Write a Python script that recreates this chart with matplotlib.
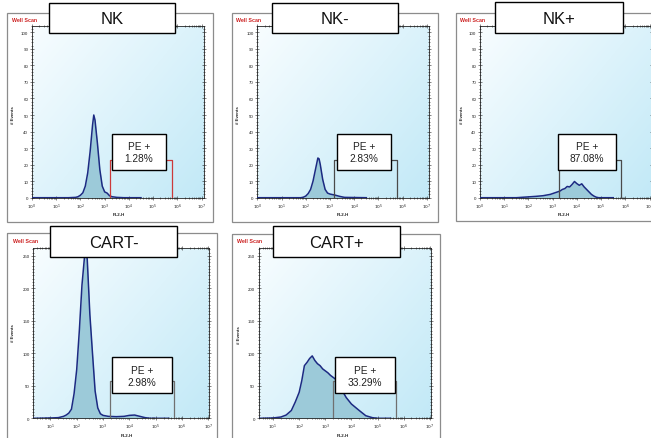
import numpy as np
import matplotlib
matplotlib.use("Agg")
import matplotlib.pyplot as plt
from matplotlib.patches import Rectangle
from matplotlib.ticker import LogLocator, MultipleLocator, FixedLocator, FixedFormatter, NullFormatter

plt.rcParams['font.family'] = ['Liberation Sans', 'DejaVu Sans']

# ---------------- data (log10 FL2-H, # events) ----------------
titles = ["NK", "NK-", "NK+", "CART-", "CART+"]
pe_labels = ["PE +\n1.28%", "PE +\n2.83%", "PE +\n87.08%", "PE +\n2.98%", "PE +\n33.29%"]

nk_x = [0.0, 1.5, 1.8, 1.9, 2.0, 2.1, 2.2, 2.3, 2.4, 2.5, 2.55, 2.6, 2.7, 2.8, 2.9, 3.0, 3.1, 3.2, 3.3, 3.5, 3.8, 4.5]
nk_y = [0, 0, 0.2, 0.6, 1.5, 3, 7, 15, 28, 44, 50, 47, 33, 17, 7, 3.5, 2.8, 1.2, 0.6, 0.2, 0, 0]

nkm_x = [0.0, 1.8, 1.9, 2.0, 2.1, 2.2, 2.3, 2.4, 2.5, 2.55, 2.6, 2.7, 2.8, 2.9, 3.0, 3.2, 3.4, 3.6, 4.5]
nkm_y = [0, 0, 0.3, 1.0, 2.5, 5, 10, 17, 24, 23.5, 20, 11, 5, 2.8, 2.2, 1.6, 0.8, 0.2, 0]

nkp_x = [0.0, 1.5, 1.8, 2.0, 2.3, 2.6, 2.9, 3.1, 3.3, 3.4, 3.5, 3.6, 3.7, 3.8, 3.9, 4.0, 4.1, 4.2, 4.3, 4.4, 4.5, 4.6, 4.7, 4.8, 4.9, 5.5]
nkp_y = [0, 0, 0.3, 0.5, 0.8, 1.2, 2.0, 3.0, 4.0, 5.0, 5.5, 6.8, 6.5, 8.0, 9.8, 8.5, 7.5, 8.4, 6.5, 5.0, 3.5, 2.0, 1.0, 0.3, 0, 0]

cartm_x = [0.35, 1.0, 1.3, 1.5, 1.6, 1.7, 1.8, 1.9, 2.0, 2.1, 2.2, 2.3, 2.35, 2.4, 2.5, 2.6, 2.7, 2.8, 2.9, 3.0, 3.2, 3.5, 3.8, 4.0, 4.2, 4.4, 4.6, 4.8, 5.5]
cartm_y = [0, 0.5, 1, 3, 5, 8, 14, 38, 75, 135, 205, 250, 256, 245, 160, 100, 42, 16, 7, 4.5, 3, 2.5, 3, 4.5, 5, 3, 1, 0, 0]

cartp_x = [0.45, 1.0, 1.3, 1.5, 1.7, 1.85, 2.0, 2.1, 2.2, 2.3, 2.4, 2.5, 2.6, 2.7, 2.8, 2.9, 3.0, 3.1, 3.2, 3.3, 3.4, 3.5, 3.6, 3.7, 3.8, 4.0, 4.3, 4.55, 4.8, 5.0, 5.5]
cartp_y = [0, 0.5, 2, 5, 12, 25, 40, 58, 81, 86, 92, 96, 89, 84, 81, 76, 73, 70, 66, 63, 60, 55, 47, 39, 32, 22, 12, 4, 1, 0, 0]

series_x = [nk_x, nkm_x, nkp_x, cartm_x, cartp_x]
series_y = [nk_y, nkm_y, nkp_y, cartm_y, cartp_y]

gate_lo = [3.21, 3.18, 3.28, 3.27, 3.28]
gate_hi = [5.78, 5.78, 5.80, 5.71, 5.72]
gate_h = [22.5, 22.5, 22.5, 57.5, 57.0]
gate_col = ["#cc3a3a", "#4a4a4a", "#4a4a4a", "#707070", "#707070"]

# ---------------- layout (pixels) ----------------
W, H = 651, 439
fig = plt.figure(figsize=(W / 100, H / 100), dpi=100)


def frac(l, t, r, b):
    return [l / W, 1 - b / H, (r - l) / W, (b - t) / H]


axes_px = [(32, 26.7, 204, 198.7), (257.3, 26.7, 429.3, 198.7), (480, 26.7, 652, 198.7),
           (33.3, 249, 209.3, 419.3), (258.7, 249, 431.3, 419.3)]
xlims = [(0.0, 7.1), (0.0, 7.1), (0.0, 7.1), (0.35, 7.04), (0.45, 7.06)]
ylims = [104, 104, 104, 262, 262]
frames = [(7, 14, 213, 223), (232, 14, 438, 223), (456, 14, 670, 222),
          (7, 234, 217, 460), (232, 235, 440, 460)]
title_boxes = [(49, 3.5, 175, 34.3), (272, 4, 398, 34.3), (495, 3.3, 623, 34),
               (50, 227, 177, 258.3), (273, 227, 400, 258.3)]
pe_boxes = [(112, 135, 166, 171), (337.3, 135, 390.7, 170.7), (558.3, 135, 615.7, 170.7),
            (111.7, 358.3, 171.7, 394), (334.7, 358.3, 394.7, 394)]
well_pos = [(12, 21), (236, 21), (460, 21), (13, 242), (237, 242)]
events_pos = [(13.5, 115), (237.7, 115), (461.7, 115), (12.7, 333), (238.7, 335)]
fl2_pos = [(119, 215), (343.3, 215), (564.3, 215), (126.7, 436), (343, 436)]

# overlay axes for frames / boxes drawn in pixel coords
over = fig.add_axes([0, 0, 1, 1], zorder=10)
over.set_xlim(0, W)
over.set_ylim(H, 0)
over.axis('off')
under = fig.add_axes([0, 0, 1, 1], zorder=-5)
under.set_xlim(0, W)
under.set_ylim(H, 0)
under.axis('off')

# gradient image
gx, gy = np.meshgrid(np.linspace(0, 1, 200), np.linspace(0, 1, 200))
u = 0.55 * gx + 0.45 * gy  # gy: 0 top -> 1 bottom
c0 = np.array([248, 253, 255]) / 255
c1 = np.array([194, 233, 247]) / 255
grad = c0[None, None, :] * (1 - u[..., None]) + c1[None, None, :] * u[..., None]

for i in range(5):
    fl, ft, fr, fb = frames[i]
    under.add_patch(Rectangle((fl, ft), fr - fl, fb - ft, fill=False, ec="#8c8c8c", lw=0.9))

    rect = frac(*axes_px[i])
    bg = fig.add_axes(rect, zorder=0)
    bg.imshow(grad, extent=(0, 1, 0, 1), aspect='auto', origin='upper')
    bg.set_xlim(0, 1)
    bg.set_ylim(0, 1)
    bg.axis('off')

    ax = fig.add_axes(rect, zorder=1)
    ax.set_facecolor('none')
    ax.set_xscale('log')
    xs = 10 ** np.array(series_x[i], dtype=float)
    ys = np.array(series_y[i], dtype=float)
    ax.fill_between(xs, 0, ys, color="#9ccad9", lw=0, zorder=2)
    ax.plot(xs, ys, color="#1c2a82", lw=1.1, zorder=3)
    # gate
    gl, gh, gv = 10 ** gate_lo[i], 10 ** gate_hi[i], gate_h[i]
    ax.plot([gl, gl, gh, gh], [0, gv, gv, 0], color=gate_col[i], lw=0.9, zorder=4)

    ax.set_xlim(10 ** xlims[i][0], 10 ** xlims[i][1])
    ax.set_ylim(0, ylims[i])
    decs = [d for d in range(0, 8) if d >= xlims[i][0] - 1e-9]
    ax.xaxis.set_major_locator(FixedLocator([10.0 ** d for d in decs]))
    ax.xaxis.set_major_formatter(FixedFormatter([r"$10^{%d}$" % d for d in decs]))
    ax.xaxis.set_minor_locator(LogLocator(base=10, subs=np.arange(2, 10), numticks=20))
    ax.xaxis.set_minor_formatter(NullFormatter())
    if ylims[i] < 200:
        ax.yaxis.set_major_locator(MultipleLocator(10))
        ax.yaxis.set_minor_locator(MultipleLocator(2))
    else:
        ax.yaxis.set_major_locator(MultipleLocator(50))
        ax.yaxis.set_minor_locator(MultipleLocator(5))
    ax.tick_params(which='both', direction='inout', top=True, right=True, width=0.4,
                   labelsize=3.2, pad=1.5, colors="#222222")
    ax.tick_params(which='major', length=2.5)
    ax.tick_params(which='minor', length=1.3)
    for s in ax.spines.values():
        s.set_linewidth(0.6)
        s.set_color("#222222")

    # texts
    wx, wy = well_pos[i]
    over.text(wx, wy, "Well Scan", color="#cc2020", fontsize=3.8, fontweight='bold',
              ha='left', va='center')
    ex, ey = events_pos[i]
    over.text(ex, ey, "# Events", fontsize=3.2, fontweight='bold', rotation=90,
              ha='center', va='center', color="#222222")
    lx, ly = fl2_pos[i]
    over.text(lx, ly, "FL2-H", fontsize=3.2, fontweight='bold', ha='center', va='center',
              color="#222222")

    # title box
    tl, tt, tr, tb = title_boxes[i]
    over.add_patch(Rectangle((tl, tt), tr - tl, tb - tt, fc='white', ec='black', lw=1.0))
    over.text((tl + tr) / 2, (tt + tb) / 2 + 0.5, titles[i], fontsize=12, ha='center',
              va='center', color="#111111")

    # PE box
    pl, pt, pr, pb = pe_boxes[i]
    over.add_patch(Rectangle((pl, pt), pr - pl, pb - pt, fc='white', ec='black', lw=1.0))
    over.text((pl + pr) / 2, (pt + pb) / 2 + 0.5, pe_labels[i], fontsize=7.3, ha='center',
              va='center', color="#222222", linespacing=1.25)

fig.savefig("out.png", dpi=100)
